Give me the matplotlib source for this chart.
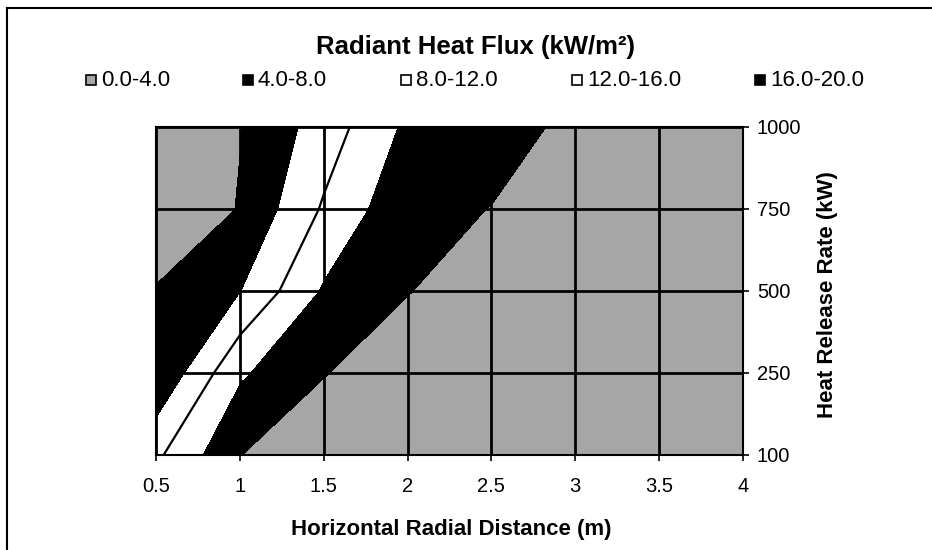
"""Radiant heat flux contour chart (distance vs heat release rate)."""

import matplotlib
matplotlib.use("Agg")
import matplotlib.pyplot as plt
import numpy as np
from matplotlib.patches import Rectangle
from matplotlib.lines import Line2D

plt.rcParams["font.family"] = ["Liberation Sans", "DejaVu Sans"]

# ------------------------------------------------------------------
# Data: flux (kW/m2) on the distance x heat-release grid
# ------------------------------------------------------------------
distance_labels = ["0.5", "1", "1.5", "2", "2.5", "3", "3.5", "4"]
hrr_labels = ["100", "250", "500", "750", "1000"]

flux_100 = [12.8, 4.02, 3.3, 2.8, 2.4, 2.1, 1.9, 1.7]
flux_250 = [19.8, 8.5, 4.05, 3.3, 2.9, 2.5, 2.2, 2.0]
flux_500 = [19.5, 16.1, 7.4, 4.05, 3.3, 2.9, 2.5, 2.2]
flux_750 = [24.5, 19.66, 11.53, 4.74, 3.95, 3.3, 2.8, 2.4]
flux_1000 = [24.0, 20.1, 14.2, 7.1, 5.0, 3.46, 2.5, 2.0]

band_labels = ["0.0-4.0", "4.0-8.0", "8.0-12.0", "12.0-16.0", "16.0-20.0"]
band_levels = [0, 4, 8, 12, 16, 20, 40]

GRAY = "#a6a6a6"
band_colors = [GRAY, "black", "white", "white", "black", GRAY]

flux = np.array([flux_100, flux_250, flux_500, flux_750, flux_1000])
xi = np.arange(len(distance_labels))
yi = np.arange(len(hrr_labels))

W, H = 932, 550
fig = plt.figure(figsize=(W / 100, H / 100), dpi=100)
ax = fig.add_axes([156 / W, 1 - 455 / H, (743 - 156) / W, (455 - 127) / H])

ax.contourf(xi, yi, flux, levels=band_levels, colors=band_colors)
ax.contour(xi, yi, flux, levels=[12], colors="black", linewidths=1.6)

# grid on every category
for x in xi:
    ax.axvline(x, color="black", lw=2, zorder=3)
for y in yi:
    ax.axhline(y, color="black", lw=2, zorder=3)

ax.set_xlim(xi[0], xi[-1])
ax.set_ylim(yi[0], yi[-1])
ax.set_xticks(xi)
ax.set_xticklabels(distance_labels)
ax.set_yticks(yi)
ax.set_yticklabels(hrr_labels)
ax.yaxis.tick_right()
ax.tick_params(axis="both", direction="out", length=4, width=1.2,
               labelsize=14.5)
ax.tick_params(axis="x", pad=12)
ax.tick_params(axis="y", pad=6)
for s in ax.spines.values():
    s.set_linewidth(1.5)

# axis titles, chart title
fig.text(451 / W, 1 - 530 / H, "Horizontal Radial Distance (m)",
         ha="center", va="center", fontsize=16, fontweight="bold")
fig.text(827 / W, 1 - 295 / H, "Heat Release Rate (kW)", rotation=90,
         ha="center", va="center", fontsize=16, fontweight="bold")
fig.text(476 / W, 1 - 47 / H, "Radiant Heat Flux (kW/m²)",
         ha="center", va="center", fontsize=18.5, fontweight="bold")

# hand-placed legend (Excel style spacing)
legend_x = [86, 243, 401, 572, 755]
legend_y = 1 - 80 / H
for lx, lab, col in zip(legend_x, band_labels, band_colors):
    fig.patches.append(Rectangle((lx / W, legend_y - 5 / H), 10 / W,
                                 10 / H, transform=fig.transFigure,
                                 facecolor=col, edgecolor="black", lw=1.2))
    fig.text((lx + 15) / W, legend_y, lab, ha="left", va="center",
             fontsize=16)

# outer frame (top and left edges visible in the scan)
fig.lines.append(Line2D([7 / W, 7 / W], [0, 1 - 8 / H],
                        transform=fig.transFigure, color="black", lw=1.5))
fig.lines.append(Line2D([7 / W, 1], [1 - 8 / H, 1 - 8 / H],
                        transform=fig.transFigure, color="black", lw=1.5))

fig.savefig("out.png", dpi=100)
